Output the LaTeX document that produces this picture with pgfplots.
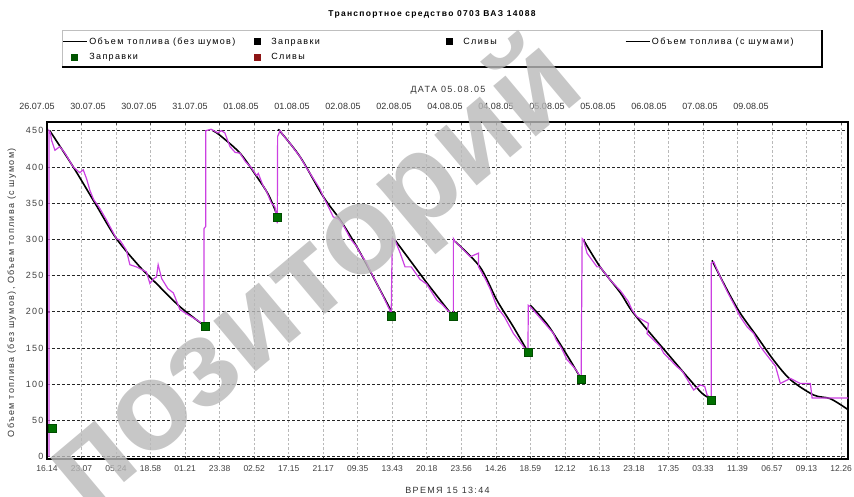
\documentclass[border=0pt]{standalone}
\usepackage{fontspec}
\setmainfont{Liberation Sans}
\newfontfamily\widefont[LetterSpace=15]{Liberation Sans}
\usepackage{pgfplots}
\usepackage{pgfplotstable}
\pgfplotsset{compat=1.18}
\definecolor{noisy}{RGB}{204,64,226}
\definecolor{refill}{RGB}{0,112,0}
\definecolor{drain}{RGB}{140,20,20}

% fuel level without noise (smoothed), one table per segment
\pgfplotstableread{
x y
0.08 450
0.76 400
1.39 350
2.01 301
2.69 262
3.17 239
3.85 207
4.55 181
}\segA
\pgfplotstableread{
x y
4.80 450
5.00 444
5.59 419
6.07 387
6.41 362
6.66 334
}\segB
\pgfplotstableread{
x y
6.70 452
7.33 414
8.00 359
8.49 327
8.97 290
9.45 248
9.97 201
}\segC
\pgfplotstableread{
x y
10.08 299
10.50 272
11.00 240
11.72 196
}\segD
\pgfplotstableread{
x y
11.82 297
12.54 262
13.03 216
13.51 179
13.90 147
}\segE
\pgfplotstableread{
x y
14.00 209
14.50 182
15.00 145
15.44 110
}\segF
\pgfplotstableread{
x y
15.54 299
16.02 262
16.61 226
16.99 198
17.96 143
18.92 90
19.21 81
}\segG
\pgfplotstableread{
x y
19.26 271
19.70 230
20.08 198
20.56 166
21.05 133
21.54 106
22.21 85
22.69 80
23.20 65
}\segH

% fuel level with noise
\pgfplotstableread{
x y
0.06 0
0.06 450
0.10 447
0.13 437
0.23 423
0.37 428
0.52 419
0.76 400
0.95 392
1.05 396
1.15 383
1.24 368
1.35 355
1.50 345
1.72 327
2.01 301
2.11 299
2.30 285
2.40 265
2.59 262
2.88 255
2.98 239
3.10 246
3.17 248
3.22 265
3.32 246
3.50 232
3.66 226
3.85 203
4.05 197
4.33 189
4.55 182
4.55 315
4.60 318
4.60 450
4.75 452
4.95 447
5.05 450
5.15 447
5.30 428
5.45 420
5.59 419
5.75 407
5.90 400
6.07 388
6.12 391
6.25 375
6.36 366
6.50 350
6.60 345
6.67 322
6.68 442
6.75 450
6.90 440
7.05 432
7.20 422
7.33 414
7.50 400
7.70 385
7.90 370
8.00 359
8.15 345
8.29 331
8.45 328
8.60 318
8.80 300
8.97 290
9.07 281
9.25 268
9.40 253
9.50 244
9.70 225
9.85 210
9.97 198
10.00 301
10.08 299
10.23 281
10.37 262
10.55 262
10.80 245
11.00 238
11.29 216
11.45 210
11.60 202
11.77 195
11.77 301
11.82 297
11.97 290
12.26 276
12.50 281
12.50 262
12.70 245
12.85 230
13.03 207
13.25 193
13.51 170
13.80 152
13.93 145
13.94 209
14.00 207
14.20 196
14.40 185
14.67 170
14.75 161
14.90 150
15.06 134
15.25 124
15.35 118
15.47 108
15.50 301
15.54 299
15.64 281
15.93 262
16.02 262
16.31 244
16.61 229
16.84 214
16.94 203
17.09 193
17.42 184
17.38 170
17.76 152
17.86 143
18.25 124
18.40 118
18.73 92
18.92 99
19.05 97
19.12 85
19.24 80
19.24 267
19.31 269
19.50 248
19.70 228
19.90 210
20.08 193
20.28 179
20.47 170
20.66 152
20.95 134
21.10 125
21.24 101
21.53 108
21.82 101
22.11 101
22.16 81
23.20 81
}\noisy

% refuelling points
\pgfplotstableread{
x y
0.16 39
4.57 180
6.67 330
9.97 194
11.77 194
13.93 143.5
15.47 107
19.24 78
}\refills

\begin{document}
\begin{tikzpicture}[x=1pt,y=1pt]
\useasboundingbox (-47,-38) rectangle (807,459);
\begin{axis}[
    at={(0,0)}, anchor=south west,
    scale only axis,
    width=801pt, height=337pt,
    xmin=0, xmax=23.2,
    ymin=-3.2, ymax=462,
    xtick={0,1,...,23},
    xticklabels={16.14,23.07,05.24,18.58,01.21,23.38,02.52,17.15,21.17,09.35,13.43,20.18,23.56,14.26,18.59,12.12,16.13,23.18,17.35,03.33,11.39,06.57,09.13,12.26},
    ytick={0,50,...,450},
    ytick pos=left,
    xmajorgrids, ymajorgrids,
    x grid style={gray!55, dash pattern=on 2.5pt off 2pt, line width=0.6pt},
    y grid style={black!85, dash pattern=on 3pt off 2pt, line width=0.8pt},
    axis line style={black, line width=1.2pt},
    major tick length=3pt,
    tick style={black!70, line width=0.5pt},
    tick label style={font=\fontsize{8.5}{10}\selectfont, text=black!75},
    yticklabel style={font=\widefont\fontsize{9}{10}\selectfont},
    /pgf/number format/assume math mode=true,
    xticklabel style={yshift=-3pt},
    ylabel={Объем топлива (без шумов), Объем топлива (с шумом)},
    ylabel style={at={(axis description cs:-0.044,0.493)}, anchor=center, font=\widefont\fontsize{9}{10}\selectfont, text=black!80},
    xlabel={ВРЕМЯ 15 13:44},
    xlabel style={at={(axis description cs:0.5,-0.092)}, anchor=center, font=\widefont\fontsize{9}{10}\selectfont, text=black!80},
    legend columns=4,
    legend cell align=left,
    legend image code/.code={%
      \path[draw=none, fill=none] (0pt,-3pt) (24pt,3pt);
      \draw[mark repeat=2,mark phase=2,#1] plot coordinates {(0pt,0pt) (12pt,0pt) (24pt,0pt)};},
    legend style={at={(axis description cs:0.0182,1.257)}, anchor=north west,
        draw=none, fill=none, font=\widefont\fontsize{9}{11}\selectfont,
        column sep=0pt, row sep=4pt, inner sep=0pt},
  ]
  \addlegendimage{black, line width=1.6pt}
  \addlegendentry{\makebox[154pt][l]{Объем топлива (без шумов)}}
  \addlegendimage{only marks, mark=square*, mark size=3pt, mark options={fill=black, draw=black}}
  \addlegendentry{\makebox[164pt][l]{Заправки}}
  \addlegendimage{only marks, mark=square*, mark size=3pt, mark options={fill=black, draw=black}}
  \addlegendentry{\makebox[160pt][l]{Сливы}}
  \addlegendimage{black, line width=0.6pt}
  \addlegendentry{Объем топлива (с шумами)}
  \addlegendimage{only marks, mark=square*, mark size=3pt, mark options={fill=refill!75!black, draw=refill!75!black}}
  \addlegendentry{Заправки}
  \addlegendimage{only marks, mark=square*, mark size=3pt, mark options={fill=drain, draw=drain}}
  \addlegendentry{Сливы}

  \addplot[forget plot, black, line width=1.6pt, smooth] table[x=x,y=y] {\segA};
  \addplot[forget plot, black, line width=1.6pt, smooth] table[x=x,y=y] {\segB};
  \addplot[forget plot, black, line width=1.6pt, smooth] table[x=x,y=y] {\segC};
  \addplot[forget plot, black, line width=1.6pt, smooth] table[x=x,y=y] {\segD};
  \addplot[forget plot, black, line width=1.6pt, smooth] table[x=x,y=y] {\segE};
  \addplot[forget plot, black, line width=1.6pt, smooth] table[x=x,y=y] {\segF};
  \addplot[forget plot, black, line width=1.6pt, smooth] table[x=x,y=y] {\segG};
  \addplot[forget plot, black, line width=1.6pt, smooth] table[x=x,y=y] {\segH};
  \addplot[forget plot, noisy, line width=1.2pt] table[x=x,y=y] {\noisy};
  \addplot[forget plot, only marks, mark=square*, mark size=4pt,
    mark options={fill=refill, draw=black!70!green, line width=0.5pt}] table[x=x,y=y] {\refills};
\end{axis}

% legend frame with shadow
\draw[gray!50, line width=0.5pt] (15,392) -- (15,429) -- (775,429);
\draw[black, line width=2.6pt] (15,392) -- (775,392) -- (775,429);

% title
\node[font=\widefont\fontsize{8.5}{10}\selectfont\bfseries] at (385,445) {Транспортное средство 0703 ВАЗ 14088};

% date axis on top
\node[font=\widefont\fontsize{9}{10}\selectfont, text=black!80] at (401,369) {ДАТА 05.08.05};
\foreach \lab [count=\i from 0] in {26.07.05,30.07.05,30.07.05,31.07.05,01.08.05,01.08.05,02.08.05,02.08.05,04.08.05,04.08.05,05.08.05,05.08.05,06.08.05,07.08.05,09.08.05}
  \node[font=\fontsize{9}{10}\selectfont, text=black!80] at ({-10+51*\i},353) {\lab};

% watermark
\node[rotate=40, font=\fontsize{125}{125}\selectfont\bfseries, text=gray!55, text opacity=0.8] at (269,181) {позиторий};
\end{tikzpicture}
\end{document}
